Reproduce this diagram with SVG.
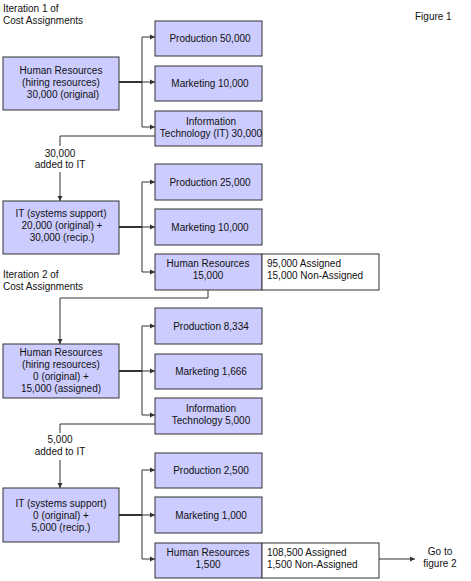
<svg xmlns="http://www.w3.org/2000/svg" width="471" height="581" viewBox="0 0 471 581">
<defs>
<marker id="arr" markerWidth="5" markerHeight="6" refX="5" refY="3" orient="auto" markerUnits="userSpaceOnUse">
<path d="M0,0.5 L5,3 L0,5.5 z" fill="#333"/>
</marker>
<style>
text{font-family:"Liberation Sans",Arial,sans-serif;font-size:10px;fill:#111}
.c{text-anchor:middle}
.box{fill:#ccccff;stroke:#333;stroke-width:1}
.wbox{fill:#fff;stroke:#333;stroke-width:1}
.ln{fill:none;stroke:#333;stroke-width:1}
.thick{fill:none;stroke:#333;stroke-width:2}
.a{fill:none;stroke:#333;stroke-width:1;marker-end:url(#arr)}
</style>
</defs>
<rect width="471" height="581" fill="#fff"/>

<g id="labels">
<text x="3" y="12">Iteration 1 of</text>
<text x="3" y="24">Cost Assignments</text>
<text x="415" y="20">Figure 1</text>
<text x="3" y="278">Iteration 2 of</text>
<text x="3" y="290">Cost Assignments</text>
<text class="c" x="60" y="157">30,000</text>
<text class="c" x="60" y="168">added to IT</text>
<text class="c" x="60" y="443">5,000</text>
<text class="c" x="60" y="455">added to IT</text>
<text class="c" x="440" y="555">Go to</text>
<text class="c" x="440" y="567">figure 2</text>
</g>

<g id="connectors">
<path class="thick" d="M119,82 H142"/>
<path class="ln" d="M142,37 V127"/>
<path class="a" d="M142,37 H155"/>
<path class="a" d="M142,82 H155"/>
<path class="a" d="M142,127 H155"/>
<path class="ln" d="M155,136 H60 V146"/>
<path class="a" d="M60,172 V201"/>

<path class="thick" d="M119,227 H142"/>
<path class="ln" d="M142,182 V272"/>
<path class="a" d="M142,182 H155"/>
<path class="a" d="M142,227 H155"/>
<path class="a" d="M142,272 H155"/>
<path class="a" d="M208,290 V298 H60 V344"/>

<path class="thick" d="M119,371 H142"/>
<path class="ln" d="M142,326 V415"/>
<path class="a" d="M142,326 H155"/>
<path class="a" d="M142,371 H155"/>
<path class="a" d="M142,415 H155"/>
<path class="ln" d="M155,424 H60 V433"/>
<path class="a" d="M60,460 V488"/>

<path class="thick" d="M119,515 H142"/>
<path class="ln" d="M142,470 V559"/>
<path class="a" d="M142,470 H155"/>
<path class="a" d="M142,515 H155"/>
<path class="a" d="M142,559 H155"/>
<path class="a" d="M379,559 H415"/>
</g>

<g id="hr1">
<rect class="box" x="3" y="57" width="116" height="53"/>
<text class="c" x="61" y="74">Human Resources</text>
<text class="c" x="61" y="86">(hiring resources)</text>
<text class="c" x="63" y="98">30,000 (original)</text>
</g>
<g id="prod1">
<rect class="box" x="155" y="21" width="107" height="35"/>
<text class="c" x="210" y="42">Production 50,000</text>
</g>
<g id="mkt1">
<rect class="box" x="155" y="66" width="107" height="35"/>
<text class="c" x="210" y="87">Marketing 10,000</text>
</g>
<g id="it1">
<rect class="box" x="155" y="111" width="107" height="35"/>
<text class="c" x="211" y="125">Information</text>
<text class="c" x="211" y="137">Technology (IT) 30,000</text>
</g>

<g id="it2">
<rect class="box" x="3" y="201" width="116" height="53"/>
<text class="c" x="61" y="217">IT (systems support)</text>
<text class="c" x="62" y="229">20,000 (original) +</text>
<text class="c" x="62" y="241">30,000 (recip.)</text>
</g>
<g id="prod2">
<rect class="box" x="155" y="164" width="107" height="36"/>
<text class="c" x="210" y="186">Production 25,000</text>
</g>
<g id="mkt2">
<rect class="box" x="155" y="209" width="107" height="36"/>
<text class="c" x="210" y="231">Marketing 10,000</text>
</g>
<g id="hr2">
<rect class="box" x="155" y="254" width="107" height="36"/>
<text class="c" x="208" y="267">Human Resources</text>
<text class="c" x="208" y="279">15,000</text>
<rect class="wbox" x="262" y="254" width="117" height="36"/>
<text x="267" y="267">95,000 Assigned</text>
<text x="267" y="279">15,000 Non-Assigned</text>
</g>

<g id="hr3">
<rect class="box" x="3" y="344" width="116" height="54"/>
<text class="c" x="61" y="356">Human Resources</text>
<text class="c" x="61" y="368">(hiring resources)</text>
<text class="c" x="61" y="380">0 (original) +</text>
<text class="c" x="61" y="392">15,000 (assigned)</text>
</g>
<g id="prod3">
<rect class="box" x="155" y="308" width="107" height="36"/>
<text class="c" x="211" y="330">Production 8,334</text>
</g>
<g id="mkt3">
<rect class="box" x="155" y="354" width="107" height="35"/>
<text class="c" x="211" y="375">Marketing 1,666</text>
</g>
<g id="it3">
<rect class="box" x="155" y="398" width="107" height="36"/>
<text class="c" x="211" y="412">Information</text>
<text class="c" x="211" y="424">Technology 5,000</text>
</g>

<g id="it4">
<rect class="box" x="3" y="488" width="116" height="54"/>
<text class="c" x="61" y="507">IT (systems support)</text>
<text class="c" x="61" y="519">0 (original) +</text>
<text class="c" x="61" y="531">5,000 (recip.)</text>
</g>
<g id="prod4">
<rect class="box" x="155" y="453" width="107" height="35"/>
<text class="c" x="211" y="474">Production 2,500</text>
</g>
<g id="mkt4">
<rect class="box" x="155" y="497" width="107" height="36"/>
<text class="c" x="211" y="519">Marketing 1,000</text>
</g>
<g id="hr4">
<rect class="box" x="155" y="543" width="107" height="35"/>
<text class="c" x="208" y="556">Human Resources</text>
<text class="c" x="208" y="568">1,500</text>
<rect class="wbox" x="262" y="543" width="117" height="35"/>
<text x="267" y="556">108,500 Assigned</text>
<text x="267" y="568">1,500 Non-Assigned</text>
</g>
</svg>
